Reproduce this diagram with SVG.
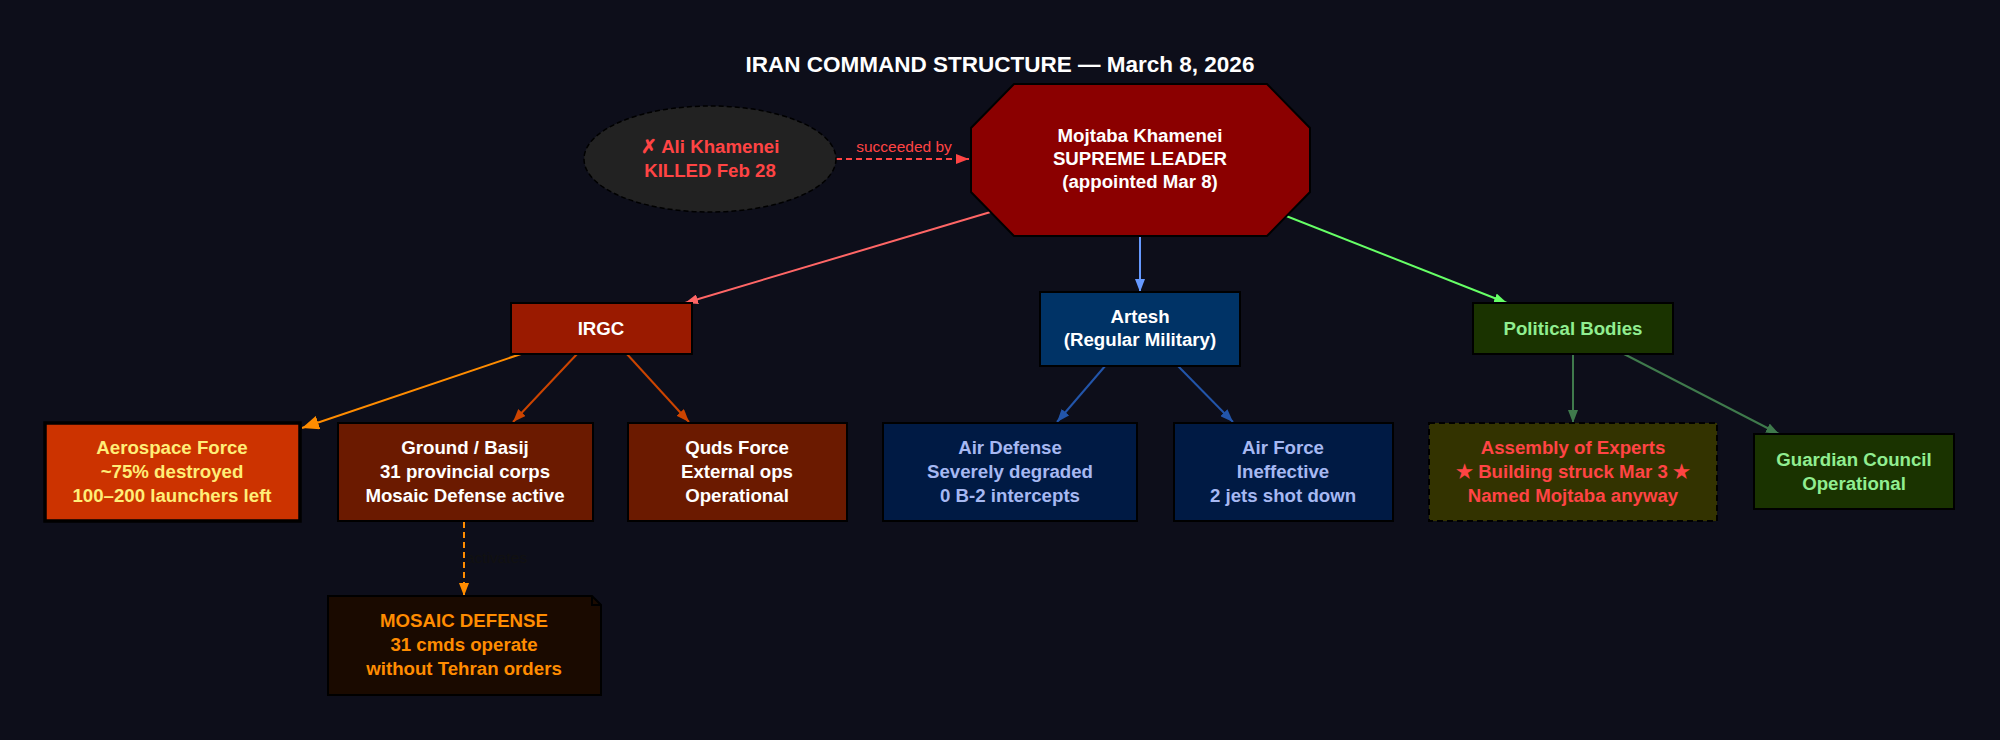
<svg xmlns="http://www.w3.org/2000/svg" width="2000" height="740" viewBox="0 0 2000 740">
<style>
  text { font-family: "Liberation Sans", Arial, Helvetica, sans-serif; }
  .t { font-size: 18.67px; font-weight: bold; text-anchor: middle; }
  .title { font-size: 22.5px; font-weight: bold; fill: #ffffff; text-anchor: middle; }
  .lbl { font-size: 15.5px; }
  .box { stroke: #000000; stroke-width: 2; }
  .edge { fill: none; stroke-width: 2; }
  .w { fill: #ffffff; }
  .red { fill: #ff4444; }
  .lg { fill: #90ee90; }
  .lb { fill: #a6b8f2; }
</style>
<defs>
  <marker id="a-red" markerUnits="userSpaceOnUse" markerWidth="14" markerHeight="10" refX="13" refY="5" orient="auto"><path d="M0,0 L13,5 L0,10 z" fill="#ff4444"/></marker>
  <marker id="a-salmon" markerUnits="userSpaceOnUse" markerWidth="14" markerHeight="10" refX="13" refY="5" orient="auto"><path d="M0,0 L13,5 L0,10 z" fill="#ff6666"/></marker>
  <marker id="a-blue" markerUnits="userSpaceOnUse" markerWidth="14" markerHeight="10" refX="13" refY="5" orient="auto"><path d="M0,0 L13,5 L0,10 z" fill="#6699ff"/></marker>
  <marker id="a-green" markerUnits="userSpaceOnUse" markerWidth="14" markerHeight="10" refX="13" refY="5" orient="auto"><path d="M0,0 L13,5 L0,10 z" fill="#66ff66"/></marker>
  <marker id="a-orange" markerUnits="userSpaceOnUse" markerWidth="18" markerHeight="14" refX="17" refY="7" orient="auto"><path d="M0,0 L17,7 L0,14 z" fill="#ff8c00"/></marker>
  <marker id="a-orange2" markerUnits="userSpaceOnUse" markerWidth="14" markerHeight="10" refX="13" refY="5" orient="auto"><path d="M0,0 L13,5 L0,10 z" fill="#ff8c00"/></marker>
  <marker id="a-rust" markerUnits="userSpaceOnUse" markerWidth="14" markerHeight="10" refX="13" refY="5" orient="auto"><path d="M0,0 L13,5 L0,10 z" fill="#cc4400"/></marker>
  <marker id="a-navy" markerUnits="userSpaceOnUse" markerWidth="14" markerHeight="10" refX="13" refY="5" orient="auto"><path d="M0,0 L13,5 L0,10 z" fill="#2255aa"/></marker>
  <marker id="a-dgreen" markerUnits="userSpaceOnUse" markerWidth="14" markerHeight="10" refX="13" refY="5" orient="auto"><path d="M0,0 L13,5 L0,10 z" fill="#3f7a4c"/></marker>
</defs>
<rect x="0" y="0" width="2000" height="740" fill="#0d0e1a"/>
<text class="title" x="1000" y="72">IRAN COMMAND STRUCTURE — March 8, 2026</text>

<g id="connectors">
  <line class="edge" x1="836" y1="159" x2="969" y2="159" stroke="#ff4444" stroke-dasharray="6,4" marker-end="url(#a-red)"/>
  <text class="lbl" x="904" y="152" text-anchor="middle" fill="#ff4444">succeeded by</text>
  <line class="edge" x1="1004" y1="208" x2="685" y2="303" stroke="#ff6666" marker-end="url(#a-salmon)"/>
  <line class="edge" x1="1140" y1="230" x2="1140" y2="292" stroke="#6699ff" marker-end="url(#a-blue)"/>
  <line class="edge" x1="1266" y1="208" x2="1507" y2="303" stroke="#66ff66" marker-end="url(#a-green)"/>
  <line class="edge" x1="524" y1="353" x2="302" y2="428" stroke="#ff8c00" stroke-width="3" marker-end="url(#a-orange)"/>
  <line class="edge" x1="578" y1="353" x2="513" y2="422" stroke="#cc4400" marker-end="url(#a-rust)"/>
  <line class="edge" x1="626" y1="353" x2="689" y2="422" stroke="#cc4400" marker-end="url(#a-rust)"/>
  <line class="edge" x1="1106" y1="365" x2="1057" y2="422" stroke="#2255aa" marker-end="url(#a-navy)"/>
  <line class="edge" x1="1177" y1="365" x2="1233" y2="422" stroke="#2255aa" marker-end="url(#a-navy)"/>
  <line class="edge" x1="1573" y1="354" x2="1573" y2="423" stroke="#3f7a4c" marker-end="url(#a-dgreen)"/>
  <line class="edge" x1="1624" y1="354" x2="1779" y2="434" stroke="#3f7a4c" marker-end="url(#a-dgreen)"/>
  <line class="edge" x1="464" y1="522" x2="464" y2="596" stroke="#ff8c00" stroke-dasharray="6,4" marker-end="url(#a-orange2)"/>
  <text class="lbl" x="466" y="563" fill="#111111">activates</text>
</g>

<g id="ali">
  <ellipse cx="710" cy="159" rx="126" ry="53" fill="#222222" stroke="#000000" stroke-width="1.5" stroke-dasharray="5,3"/>
  <text class="t red" x="710" y="153">✗ Ali Khamenei</text>
  <text class="t red" x="710" y="177">KILLED Feb 28</text>
</g>

<g id="mojtaba">
  <polygon class="box" points="1014,84 1267,84 1310,128 1310,192 1267,236 1014,236 971,192 971,128" fill="#8b0000"/>
  <text class="t w" x="1140" y="142">Mojtaba Khamenei</text>
  <text class="t w" x="1140" y="165">SUPREME LEADER</text>
  <text class="t w" x="1140" y="188">(appointed Mar 8)</text>
</g>

<g id="irgc">
  <rect class="box" x="511" y="303" width="181" height="51" fill="#9a1a00"/>
  <text class="t w" x="601" y="335">IRGC</text>
</g>

<g id="artesh">
  <rect class="box" x="1040" y="292" width="200" height="74" fill="#003366"/>
  <text class="t w" x="1140" y="323">Artesh</text>
  <text class="t w" x="1140" y="346">(Regular Military)</text>
</g>

<g id="political">
  <rect class="box" x="1473" y="303" width="200" height="51" fill="#1a3300"/>
  <text class="t lg" x="1573" y="335">Political Bodies</text>
</g>

<g id="aerospace">
  <rect x="45" y="423" width="255" height="98" fill="#cc3300" stroke="#000000" stroke-width="3.5"/>
  <text class="t" fill="#ffee77" x="172" y="454">Aerospace Force</text>
  <text class="t" fill="#ffee77" x="172" y="478">~75% destroyed</text>
  <text class="t" fill="#ffee77" x="172" y="502">100–200 launchers left</text>
</g>

<g id="ground">
  <rect class="box" x="338" y="423" width="255" height="98" fill="#6b1a00"/>
  <text class="t w" x="465" y="454">Ground / Basij</text>
  <text class="t w" x="465" y="478">31 provincial corps</text>
  <text class="t w" x="465" y="502">Mosaic Defense active</text>
</g>

<g id="quds">
  <rect class="box" x="628" y="423" width="219" height="98" fill="#6b1a00"/>
  <text class="t w" x="737" y="454">Quds Force</text>
  <text class="t w" x="737" y="478">External ops</text>
  <text class="t w" x="737" y="502">Operational</text>
</g>

<g id="airdefense">
  <rect class="box" x="883" y="423" width="254" height="98" fill="#001a44"/>
  <text class="t lb" x="1010" y="454">Air Defense</text>
  <text class="t lb" x="1010" y="478">Severely degraded</text>
  <text class="t lb" x="1010" y="502">0 B-2 intercepts</text>
</g>

<g id="airforce">
  <rect class="box" x="1174" y="423" width="219" height="98" fill="#001a44"/>
  <text class="t lb" x="1283" y="454">Air Force</text>
  <text class="t lb" x="1283" y="478">Ineffective</text>
  <text class="t lb" x="1283" y="502">2 jets shot down</text>
</g>

<g id="assembly">
  <rect class="box" x="1429" y="423" width="288" height="98" fill="#333300" stroke-dasharray="6,4"/>
  <text class="t red" x="1573" y="454">Assembly of Experts</text>
  <text class="t red" x="1573" y="478">★ Building struck Mar 3 ★</text>
  <text class="t red" x="1573" y="502">Named Mojtaba anyway</text>
</g>

<g id="guardian">
  <rect class="box" x="1754" y="434" width="200" height="75" fill="#1a3300"/>
  <text class="t lg" x="1854" y="466">Guardian Council</text>
  <text class="t lg" x="1854" y="490">Operational</text>
</g>

<g id="mosaic">
  <polygon class="box" points="328,596 592,596 601,605 601,695 328,695" fill="#1a0a00"/>
  <polyline points="592,596 592,605 601,605" fill="none" stroke="#000000" stroke-width="2"/>
  <text class="t" fill="#ff8c00" x="464" y="627">MOSAIC DEFENSE</text>
  <text class="t" fill="#ff8c00" x="464" y="651">31 cmds operate</text>
  <text class="t" fill="#ff8c00" x="464" y="675">without Tehran orders</text>
</g>
</svg>
